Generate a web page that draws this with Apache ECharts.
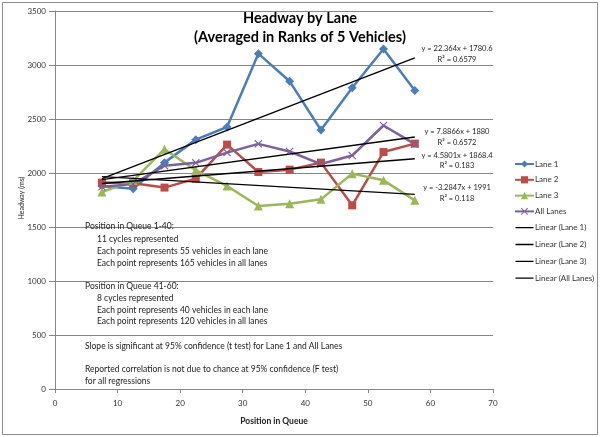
<!DOCTYPE html>
<html>
<head>
<meta charset="utf-8">
<script src="https://cdn.jsdelivr.net/npm/echarts@6/dist/echarts.min.js"></script>
<style>html,body{margin:0;padding:0;background:#fff}#c{width:600px;height:437px}</style>
</head>
<body>
<div id="c"></div>
<script>
// ---- data ----
const positions = [7.5, 12.5, 17.5, 22.5, 27.5, 32.5, 37.5, 42.5, 47.5, 52.5, 57.5];
const lane1 = [1880, 1855, 2096, 2309, 2426, 3105, 2849, 2398, 2790, 3148, 2765];
const lane2 = [1911, 1905, 1865, 1948, 2263, 2009, 2031, 2096, 1701, 2194, 2272];
const lane3 = [1824, 1930, 2220, 2025, 1880, 1694, 1716, 1756, 1994, 1932, 1747];
const allLanes = [1872, 1897, 2068, 2094, 2189, 2270, 2199, 2083, 2162, 2440, 2268];
const seriesNames = ['Lane 1', 'Lane 2', 'Lane 3', 'All Lanes'];
const trendNames = ['Linear (Lane 1)', 'Linear (Lane 2)', 'Linear (Lane 3)', 'Linear (All Lanes)'];
const trendSlopes = [22.364, 4.5801, -3.2847, 7.8866];
const trendIntercepts = [1780.6, 1868.4, 1991, 1880];
const equationLabels = ['y = 22.364x + 1780.6', 'y = 7.8866x + 1880', 'y = 4.5801x + 1868.4', 'y = -3.2847x + 1991'];
const r2Labels = ['R² = 0.6579', 'R² = 0.6572', 'R² = 0.183', 'R² = 0.118'];
const xTicks = [0, 10, 20, 30, 40, 50, 60, 70];
const yTicks = [0, 500, 1000, 1500, 2000, 2500, 3000, 3500];
const notes = [
  'Position in Queue 1-40:',
  '11 cycles represented',
  'Each point represents 55 vehicles in each lane',
  'Each point represents 165 vehicles in all lanes',
  'Position in Queue 41-60:',
  '8 cycles represented',
  'Each point represents 40 vehicles in each lane',
  'Each point represents 120 vehicles in all lanes',
  'Slope is significant at 95% confidence (t test) for Lane 1 and All Lanes',
  'Reported correlation is not due to chance at 95% confidence (F test)',
  'for all regressions'
];

// ---- chart ----
const FONT = 'Lato, "Open Sans", sans-serif';
const colors = ['#4A7EBB', '#BE4B48', '#98B954', '#7D60A0'];
const symbols = ['diamond', 'rect', 'triangle',
  'path://M0,1L1,0L5,4L9,0L10,1L6,5L10,9L9,10L5,6L1,10L0,9L4,5Z'];
const symbolSizes = [9, 8, 9, 8];
const laneData = [lane1, lane2, lane3, allLanes];
const lineIcon = 'path://M0,0L0.05,0L0.05,0.05L0,0.05Z M0,4.3L20,4.3L20,5.7L0,5.7Z M19.95,9.95L20,9.95L20,10L19.95,10Z';

const series = [];
laneData.forEach((arr, i) => {
  series.push({
    name: seriesNames[i], type: 'line',
    data: positions.map((x, k) => [x, arr[k]]),
    symbol: symbols[i], symbolSize: symbolSizes[i], showSymbol: true,
    lineStyle: { color: colors[i], width: 2.5 },
    itemStyle: { color: colors[i] },
    z: 3, animation: false
  });
});
trendNames.forEach((n, i) => {
  const x0 = positions[0], x1 = positions[positions.length - 1];
  series.push({
    name: n, type: 'line',
    data: [[x0, trendSlopes[i] * x0 + trendIntercepts[i]], [x1, trendSlopes[i] * x1 + trendIntercepts[i]]],
    symbol: 'none', showSymbol: false,
    lineStyle: { color: '#000', width: 1.3 },
    itemStyle: { color: '#000' },
    z: 4, animation: false
  });
});

const graphic = [
  { type: 'rect', shape: { x: 2.5, y: 2.5, width: 595, height: 432 },
    style: { fill: 'none', stroke: '#8c8c8c', lineWidth: 1 }, z: -10 },
  { type: 'text', x: 300, y: 9, style: { text: 'Headway by Lane\n(Averaged in Ranks of 5 Vehicles)',
    font: 'bold 14.5px ' + FONT, fill: '#000', align: 'center', lineHeight: 19 } , z: 20},
  { type: 'text', x: 22, y: 198, rotation: Math.PI / 2, style: { text: 'Headway (ms)', font: '7px ' + FONT,
    fill: '#222', align: 'center', verticalAlign: 'middle' } }
];
// equation labels
const eqY = [[49, 60], [132, 143], [156, 166], [188, 199]];
equationLabels.forEach((t, i) => {
  graphic.push({ type: 'text', x: 457, y: eqY[i][0], style: { text: t, font: '7.5px ' + FONT, fill: '#222', align: 'center', verticalAlign: 'middle' }, z: 10 });
  graphic.push({ type: 'text', x: 457, y: eqY[i][1], style: { text: r2Labels[i], font: '7.5px ' + FONT, fill: '#222', align: 'center', verticalAlign: 'middle' }, z: 10 });
});
// notes
const noteLayout = [[85, 226], [97, 239], [97, 251], [97, 263], [85, 286], [97, 298], [97, 310], [97, 321], [85, 346], [85, 369], [85, 381]];
notes.forEach((t, i) => {
  graphic.push({ type: 'text', x: noteLayout[i][0], y: noteLayout[i][1], style: { text: t, font: '8.5px ' + FONT, fill: '#222', verticalAlign: 'middle' }, z: 10 });
});

const chart = echarts.init(document.getElementById('c'), null, { renderer: 'canvas' });
chart.setOption({
  animation: false,
  backgroundColor: '#fff',
  grid: { left: 55, top: 11, width: 438, height: 378 },
  xAxis: {
    type: 'value', min: xTicks[0], max: xTicks[xTicks.length - 1], interval: 10,
    name: 'Position in Queue', nameLocation: 'middle', nameGap: 28,
    nameTextStyle: { fontFamily: FONT, fontWeight: 'bold', fontSize: 8.5, color: '#222' },
    axisLine: { lineStyle: { color: '#868686' } },
    axisTick: { show: true, length: 4, inside: false, lineStyle: { color: '#868686' } },
    axisLabel: { fontFamily: FONT, fontSize: 8, color: '#333', margin: 10 },
    splitLine: { show: false }
  },
  yAxis: {
    type: 'value', min: yTicks[0], max: yTicks[yTicks.length - 1], interval: 500,
    axisLine: { show: true, lineStyle: { color: '#868686' } },
    axisTick: { show: true, length: 6, lineStyle: { color: '#868686' } },
    axisLabel: { fontFamily: FONT, fontSize: 8, color: '#333', margin: 9, formatter: v => String(v) },
    splitLine: { show: true, lineStyle: { color: '#868686', width: 1 } }
  },
  legend: {
    orient: 'vertical', left: 509, top: 155, itemGap: 7.8, itemWidth: 19, itemHeight: 9,
    textStyle: { fontFamily: FONT, fontSize: 8, color: '#333', padding: [0, 0, 0, -4] },
    data: seriesNames.map(n => ({ name: n })).concat(trendNames.map(n => ({ name: n, icon: lineIcon, itemStyle: { color: '#000' } })))
  },
  series: series,
  graphic: graphic
});
</script>
</body>
</html>
